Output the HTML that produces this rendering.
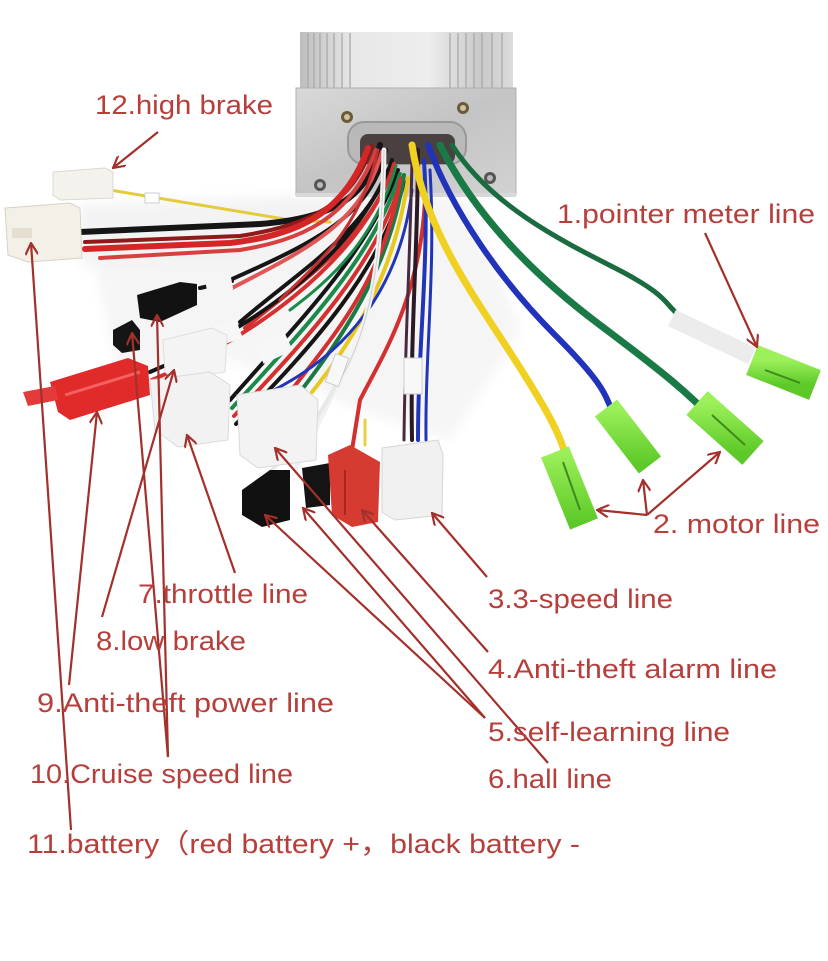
<!DOCTYPE html>
<html><head><meta charset="utf-8"><style>
html,body{margin:0;padding:0;background:#fff;}
svg{display:block;}
text{font-family:"Liberation Sans","Noto Sans CJK SC",sans-serif;font-size:27px;fill:#b63f3c;}
</style></head><body>
<svg width="828" height="961" viewBox="0 0 828 961" xmlns="http://www.w3.org/2000/svg">
<defs>
<marker id="ah" viewBox="0 0 12 12" refX="11" refY="6" markerWidth="13" markerHeight="13" markerUnits="userSpaceOnUse" orient="auto"><path d="M0,0 L11,6 L0,12" fill="none" stroke="#a3302b" stroke-width="2"/></marker>
<linearGradient id="plate" x1="0" y1="0" x2="1" y2="1"><stop offset="0" stop-color="#d9d9d9"/><stop offset="0.5" stop-color="#c4c4c4"/><stop offset="1" stop-color="#d2d2d2"/></linearGradient>
<linearGradient id="fins" x1="0" y1="0" x2="1" y2="0"><stop offset="0" stop-color="#bdbdbd"/><stop offset="0.25" stop-color="#e8e8e8"/><stop offset="0.6" stop-color="#ededed"/><stop offset="0.85" stop-color="#c9c9c9"/><stop offset="1" stop-color="#dcdcdc"/></linearGradient>
<linearGradient id="grn" x1="0" y1="0" x2="0" y2="1"><stop offset="0" stop-color="#9cf05a"/><stop offset="1" stop-color="#5cc928"/></linearGradient>
<filter id="soft"><feGaussianBlur stdDeviation="6"/></filter>
</defs>
<rect width="828" height="961" fill="#fff"/>

<g filter="url(#soft)">
<polygon points="95,265 370,190 470,200 520,330 450,440 360,410 290,380 200,350 120,380" fill="#f5f5f5"/>
<polygon points="80,205 330,195 330,262 80,265" fill="#f3f3f3"/>
</g>

<!-- controller box -->
<rect x="300" y="32" width="213" height="60" fill="url(#fins)"/>
<g stroke="#a9a9a9" stroke-width="1.3">
<line x1="308" y1="33" x2="308" y2="92"/><line x1="314" y1="33" x2="314" y2="92"/><line x1="320" y1="33" x2="320" y2="92"/><line x1="327" y1="33" x2="327" y2="92"/><line x1="334" y1="33" x2="334" y2="92"/><line x1="342" y1="33" x2="342" y2="92"/><line x1="350" y1="33" x2="350" y2="92"/>
<line x1="450" y1="33" x2="450" y2="92"/><line x1="458" y1="33" x2="458" y2="92"/><line x1="466" y1="33" x2="466" y2="92"/><line x1="474" y1="33" x2="474" y2="92"/><line x1="482" y1="33" x2="482" y2="92"/><line x1="492" y1="33" x2="492" y2="92"/><line x1="502" y1="33" x2="502" y2="92"/>
</g>
<rect x="296" y="88" width="220" height="107" fill="url(#plate)" stroke="#b0b0b0"/>
<circle cx="347" cy="117" r="6" fill="#6b5a3a"/><circle cx="347" cy="117" r="3" fill="#cfc4a0"/>
<circle cx="463" cy="108" r="6" fill="#6b5a3a"/><circle cx="463" cy="108" r="3" fill="#cfc4a0"/>
<circle cx="320" cy="185" r="6" fill="#555"/><circle cx="320" cy="185" r="3" fill="#bbb"/>
<circle cx="490" cy="178" r="6" fill="#555"/><circle cx="490" cy="178" r="3" fill="#bbb"/>
<rect x="348" y="122" width="118" height="42" rx="16" fill="#b9b9b9" stroke="#999" stroke-width="2"/>
<rect x="360" y="134" width="95" height="30" rx="8" fill="#4a4040"/>
<rect x="296" y="193" width="220" height="4" fill="#d8d8d8"/>

<!-- wires: left group -->
<g fill="none" stroke-linecap="round">
<path d="M110,190 L290,220 L330,222" stroke="#e3cc3a" stroke-width="3"/>
<rect x="145" y="193" width="14" height="10" fill="#fff" stroke="#ccc"/>
<path d="M380,145 C 368,200 330,218 260,224 L 80,232" stroke="#151515" stroke-width="6"/>
<path d="M372,146 C 352,205 310,225 240,236 L 85,242" stroke="#8e1a1a" stroke-width="4"/>
<path d="M368,148 C 345,212 300,235 230,243 L 85,249" stroke="#d42626" stroke-width="6"/>
<path d="M376,150 C 350,220 300,240 240,250 L 100,258" stroke="#d84040" stroke-width="4"/>
<path d="M386,150 C 370,215 320,240 230,280" stroke="#151515" stroke-width="4"/>
<path d="M382,152 C 362,222 310,248 232,288" stroke="#e05555" stroke-width="4"/>
<path d="M232,281 L200,288" stroke="#151515" stroke-width="4"/>
<rect x="206" y="276" width="26" height="16" fill="#f5f5f5" transform="rotate(-10 219 284)"/>
<path d="M392,160 C 370,230 300,270 240,322" stroke="#151515" stroke-width="4"/>
<path d="M394,164 C 372,236 305,278 245,328" stroke="#d43030" stroke-width="4"/>
<path d="M388,170 C 350,260 250,330 150,372" stroke="#151515" stroke-width="4"/>
<path d="M390,176 C 352,266 255,336 152,380" stroke="#d43030" stroke-width="4"/>
<path d="M398,170 C 370,250 300,320 230,400" stroke="#151515" stroke-width="4"/>
<path d="M400,174 C 374,256 305,328 232,408" stroke="#1c8a4a" stroke-width="4"/>
<path d="M402,178 C 378,262 310,336 234,416" stroke="#d43030" stroke-width="4"/>
<path d="M404,182 C 382,268 315,344 236,424" stroke="#151515" stroke-width="4"/>
<path d="M396,166 C 375,240 330,280 290,310" stroke="#1c8a4a" stroke-width="3"/>
<path d="M378,150 C 360,230 320,260 280,300" stroke="#c23030" stroke-width="3"/>
<rect x="258" y="338" width="32" height="20" fill="#f7f7f7" transform="rotate(-25 274 348)"/>
<rect x="212" y="323" width="28" height="20" fill="#f7f7f7" transform="rotate(-20 226 333)"/>
<path d="M404,175 C 390,270 340,340 300,392" stroke="#1a7a45" stroke-width="4"/>
<path d="M408,178 C 395,275 350,345 312,392" stroke="#e8c820" stroke-width="4"/>
<path d="M400,180 C 385,280 330,340 290,392" stroke="#d43030" stroke-width="4"/>
<path d="M412,190 C 400,290 345,355 270,392" stroke="#2035b8" stroke-width="3"/>
<path d="M384,150 C 382,260 370,330 340,380 C 330,400 310,440 295,470" stroke="#f2f2f2" stroke-width="5"/>
<path d="M384,150 C 382,260 370,330 340,380" stroke="#cfcfcf" stroke-width="1"/>
<path d="M338,380 C 320,420 290,450 270,472" stroke="#e8e8e8" stroke-width="4"/>
<rect x="330" y="355" width="14" height="30" fill="#f8f8f8" stroke="#ccc" transform="rotate(20 337 370)"/>
<path d="M425,200 C 420,300 380,360 360,400 L 352,450" stroke="#d43030" stroke-width="4"/>
<path d="M418,150 C 418,250 410,330 412,440" stroke="#2a1a25" stroke-width="4"/>
<path d="M424,160 C 430,260 418,340 418,440" stroke="#2035b8" stroke-width="4"/>
<path d="M430,170 C 436,270 425,350 426,440" stroke="#2035b8" stroke-width="3"/>
<path d="M412,160 C 410,260 405,340 404,440" stroke="#4a2a40" stroke-width="3"/>
<path d="M365,420 L 365,445" stroke="#e8d040" stroke-width="3"/>
<rect x="404" y="358" width="18" height="36" fill="#f8f8f8" stroke="#ccc"/>
</g>

<!-- motor & pointer wires -->
<g fill="none" stroke-linecap="round">
<path d="M412,145 C 425,230 470,290 515,360 S 560,440 566,455" stroke="#f0d020" stroke-width="7"/>
<path d="M428,145 C 452,210 500,280 555,335 S 605,398 612,410" stroke="#2233bb" stroke-width="6"/>
<path d="M440,145 C 470,205 520,265 600,325 S 688,395 702,408" stroke="#1a7a45" stroke-width="7"/>
<path d="M452,145 C 490,205 560,240 615,268 S 665,305 680,316" stroke="#1a6b40" stroke-width="5"/>
</g>
<line x1="672" y1="318" x2="752" y2="356" stroke="#ececec" stroke-width="18"/>

<!-- green motor connectors -->
<line x1="555" y1="452" x2="584" y2="524" stroke="url(#grn)" stroke-width="30"/>
<line x1="606" y1="408" x2="650" y2="465" stroke="url(#grn)" stroke-width="28"/>
<line x1="697" y1="403" x2="753" y2="453" stroke="url(#grn)" stroke-width="32"/>
<line x1="752" y1="360" x2="815" y2="385" stroke="url(#grn)" stroke-width="32"/>
<line x1="563" y1="462" x2="580" y2="510" stroke="#3f8a1a" stroke-width="2"/>
<line x1="712" y1="415" x2="745" y2="445" stroke="#3f8a1a" stroke-width="2"/>
<line x1="765" y1="370" x2="800" y2="383" stroke="#3f8a1a" stroke-width="2"/>

<!-- connectors -->
<polygon points="53,172 105,168 113,172 113,198 60,200 53,195" fill="#f4f2ec" stroke="#dcd8cc"/>
<polygon points="5,208 70,203 80,208 82,258 28,262 8,255" fill="#f3f0e7" stroke="#d8d2c2"/>
<rect x="12" y="228" width="20" height="10" fill="#e4dfd0"/>
<polygon points="137,295 180,282 197,284 197,305 160,322 140,318" fill="#121212"/>
<polygon points="113,330 132,320 140,330 140,350 122,353 113,345" fill="#151515"/>
<polygon points="50,382 128,358 148,366 150,395 70,420 58,412" fill="#e12a2a"/>
<polygon points="23,392 55,386 58,400 28,406" fill="#e43a3a"/>
<line x1="65" y1="395" x2="140" y2="372" stroke="#f56060" stroke-width="3"/>
<polygon points="163,340 212,328 227,335 225,372 175,380 165,372" fill="#f4f4f4" stroke="#dedede"/>
<polygon points="150,380 210,372 230,385 228,440 178,447 155,430" fill="#f2f2f2" stroke="#dadada"/>
<polygon points="237,395 300,385 318,400 316,460 258,468 240,455" fill="#f3f3f3" stroke="#d9d9d9"/>
<polygon points="242,490 270,470 290,470 290,520 262,527 242,515" fill="#111"/>
<polygon points="302,468 330,463 330,505 306,508" fill="#141414"/>
<polygon points="328,455 350,445 380,462 378,522 352,527 332,515" fill="#d63b32"/>
<line x1="345" y1="470" x2="345" y2="515" stroke="#a9261f" stroke-width="2"/>
<polygon points="382,448 438,440 443,455 442,515 395,520 382,512" fill="#f1f1f1" stroke="#d5d5d5"/>

<!-- arrows -->
<g stroke="#a3302b" stroke-width="2.2" fill="none" marker-end="url(#ah)">
<line x1="158" y1="132" x2="113" y2="168"/>
<line x1="705" y1="233" x2="757" y2="347"/>
<line x1="647" y1="515" x2="597" y2="510"/>
<line x1="647" y1="515" x2="643" y2="480"/>
<line x1="647" y1="515" x2="720" y2="452"/>
<line x1="487" y1="577" x2="432" y2="513"/>
<line x1="488" y1="652" x2="362" y2="510"/>
<line x1="485" y1="718" x2="265" y2="515"/>
<line x1="485" y1="718" x2="303" y2="508"/>
<line x1="548" y1="763" x2="275" y2="448"/>
<line x1="235" y1="573" x2="187" y2="435"/>
<line x1="102" y1="617" x2="174" y2="370"/>
<line x1="69" y1="685" x2="97" y2="412"/>
<line x1="168" y1="757" x2="132" y2="333"/>
<line x1="168" y1="757" x2="157" y2="315"/>
<line x1="71" y1="830" x2="31" y2="243"/>
</g>

<!-- labels -->
<text x="95" y="114" textLength="178" lengthAdjust="spacingAndGlyphs">12.high brake</text>
<text x="557" y="223" textLength="258" lengthAdjust="spacingAndGlyphs">1.pointer meter line</text>
<text x="653" y="533" textLength="167" lengthAdjust="spacingAndGlyphs">2. motor line</text>
<text x="488" y="608" textLength="185" lengthAdjust="spacingAndGlyphs">3.3-speed line</text>
<text x="488" y="678" textLength="289" lengthAdjust="spacingAndGlyphs">4.Anti-theft alarm line</text>
<text x="488" y="741" textLength="242" lengthAdjust="spacingAndGlyphs">5.self-learning line</text>
<text x="488" y="788" textLength="124" lengthAdjust="spacingAndGlyphs">6.hall line</text>
<text x="138" y="603" textLength="170" lengthAdjust="spacingAndGlyphs">7.throttle line</text>
<text x="96" y="650" textLength="150" lengthAdjust="spacingAndGlyphs">8.low brake</text>
<text x="37" y="712" textLength="297" lengthAdjust="spacingAndGlyphs">9.Anti-theft power line</text>
<text x="30" y="783" textLength="263" lengthAdjust="spacingAndGlyphs">10.Cruise speed line</text>
<text x="27" y="853" textLength="553" lengthAdjust="spacingAndGlyphs">11.battery（red battery +，black battery -</text>
</svg>
</body></html>
